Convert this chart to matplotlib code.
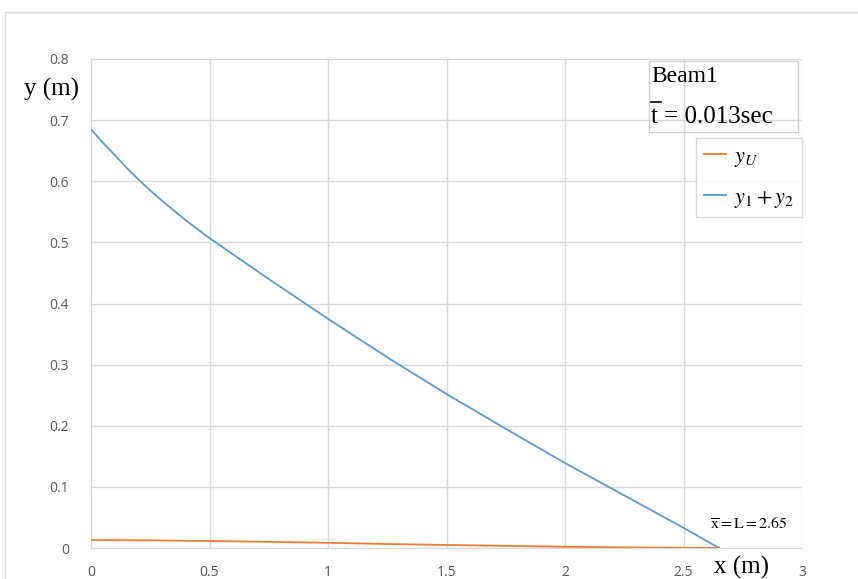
import matplotlib.pyplot as plt
from matplotlib.patches import Rectangle
from matplotlib.lines import Line2D

# blue curve: y1 + y2
x_blue = [0.0, 0.05, 0.1, 0.15, 0.2, 0.25, 0.3, 0.35, 0.4, 0.5, 0.75, 1.0, 1.25, 1.5, 1.75, 2.0, 2.25, 2.5, 2.65]
y_blue = [0.685, 0.663, 0.643, 0.622, 0.603, 0.585, 0.568, 0.552, 0.536, 0.507, 0.44, 0.375, 0.312, 0.252, 0.195, 0.139, 0.086, 0.033, 0.0]

# orange curve: yU
x_orange = [0.0, 0.25, 0.5, 0.75, 1.0, 1.25, 1.5, 1.75, 2.0, 2.25, 2.5, 2.65]
y_orange = [0.013, 0.0125, 0.0115, 0.010, 0.0085, 0.0065, 0.005, 0.0035, 0.002, 0.001, 0.0003, 0.0]

x_ticks = [0, 0.5, 1, 1.5, 2, 2.5, 3]
x_tick_labels = ["0", "0.5", "1", "1.5", "2", "2.5", "3"]
y_ticks = [0, 0.1, 0.2, 0.3, 0.4, 0.5, 0.6, 0.7, 0.8]
y_tick_labels = ["0", "0.1", "0.2", "0.3", "0.4", "0.5", "0.6", "0.7", "0.8"]

plt.rcParams["mathtext.fontset"] = "stix"
serif = "Liberation Serif"
W, H = 858, 579

fig = plt.figure(figsize=(W / 100, H / 100), dpi=100)
ax = fig.add_axes([91 / W, 1 - 548 / H, (802 - 91) / W, (548 - 59) / H])

# outer chart frame
fig.patches.append(Rectangle((5 / W, -0.1), 1.2, 1 - 12 / H + 0.1, transform=fig.transFigure,
                             fill=False, edgecolor="#d9d9d9", linewidth=1))

ax.plot(x_orange, y_orange, color="#ED7D31", linewidth=1.3, label=r"$y_U$")
ax.plot(x_blue, y_blue, color="#5B9BD5", linewidth=1.3, label=r"$y_1 + y_2$")

ax.set_xlim(0, 3)
ax.set_ylim(0, 0.8)
ax.set_xticks(x_ticks)
ax.set_xticklabels(x_tick_labels)
ax.set_yticks(y_ticks)
ax.set_yticklabels(y_tick_labels)
ax.grid(True, color="#d9d9d9", linewidth=1)
ax.set_axisbelow(True)
for side in ["top", "right", "left"]:
    ax.spines[side].set_visible(False)
ax.spines["bottom"].set_color("#d9d9d9")
ax.tick_params(length=0, labelsize=10, labelcolor="#595959")
ax.tick_params(axis="x", pad=12)
ax.tick_params(axis="y", pad=16)
for lab in ax.get_xticklabels() + ax.get_yticklabels():
    lab.set_family("Open Sans")

# axis labels in the corners
fig.text(24 / W, 1 - 89 / H, "y (m)", family=serif, fontsize=18, va="center", ha="left")
fig.text(741 / W, 1 - 567 / H, "x (m)", family=serif, fontsize=18, va="center", ha="center")

# title box
fig.text(651 / W, 1 - 77 / H, "Beam1", family=serif, fontsize=17, va="center", ha="left")
fig.text(651 / W, 1 - 117 / H, "t = 0.013sec", family=serif, fontsize=18, va="center", ha="left")
fig.lines.append(Line2D([651 / W, 661 / W], [1 - 102 / H, 1 - 102 / H], transform=fig.transFigure,
                        color="black", linewidth=1.2))
fig.patches.append(Rectangle((649 / W, 1 - 132 / H), (798 - 649) / W, (132 - 61) / H,
                             transform=fig.transFigure, fill=False, edgecolor="#cfcfcf", linewidth=1))

leg = ax.legend(loc="upper left", bbox_to_anchor=(696 / W, 1 - 138 / H), bbox_transform=fig.transFigure,
                fontsize=16, frameon=True, fancybox=False, handlelength=1.0, handletextpad=0.35,
                borderpad=0.35, labelspacing=0.8, borderaxespad=0)
leg.get_frame().set_edgecolor("#cfcfcf")
leg.get_frame().set_linewidth(1)

ax.text(2.775, 0.038, r"$\overline{\mathrm{x}}=\mathrm{L}=2.65$", fontsize=11.5, va="center", ha="center")

fig.savefig("out.png", dpi=100)
